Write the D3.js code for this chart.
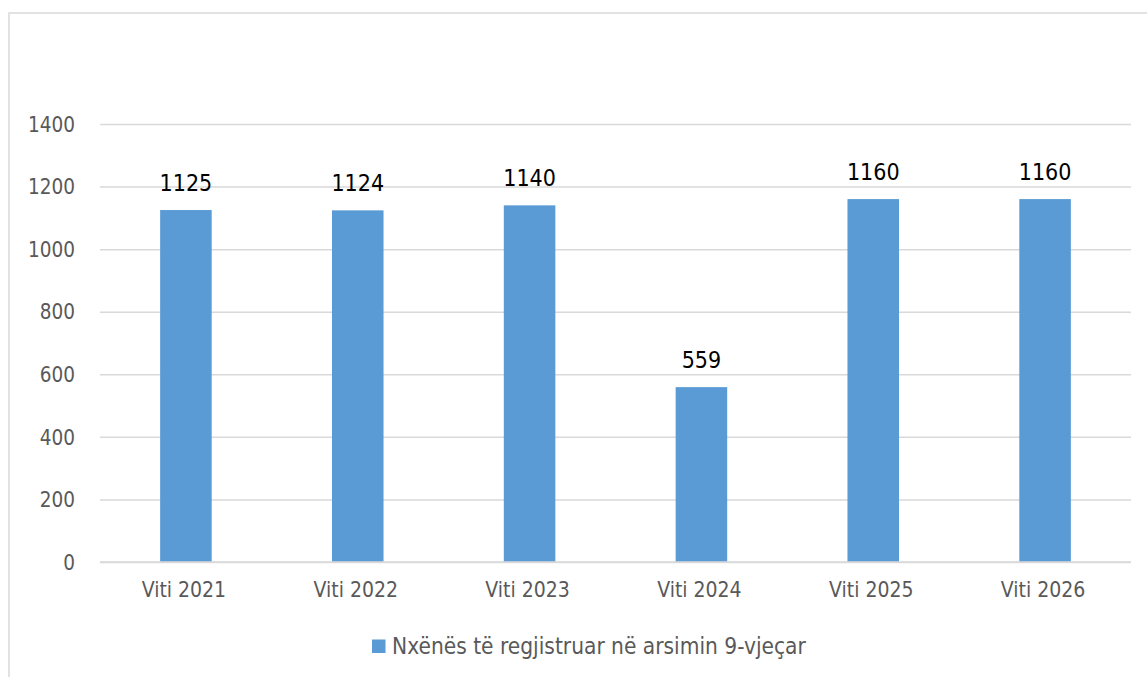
<!DOCTYPE html>
<html>
<head>
<meta charset="utf-8">
<script src="https://cdn.jsdelivr.net/npm/d3@7/dist/d3.min.js"></script>
<style>
  html, body { margin: 0; padding: 0; background: #fff; }
  svg { display: block; }
</style>
</head>
<body>
<svg id="chart" width="1147" height="677"></svg>
<script>
const categories = ["Viti 2021", "Viti 2022", "Viti 2023", "Viti 2024", "Viti 2025", "Viti 2026"];
const values = [1125, 1124, 1140, 559, 1160, 1160];
const yTicks = [0, 200, 400, 600, 800, 1000, 1200, 1400];
const seriesName = "Nxënës të regjistruar në arsimin 9-vjeçar";

const W = 1147, H = 677;
const font = "'DejaVu Sans Condensed', 'DejaVu Sans', sans-serif";
const grey = "#595959";
const barColor = "#5B9BD5";
const gridColor = "#d9d9d9";

const svg = d3.select("#chart");

// outer chart border (left and top visible)
svg.append("rect")
  .attr("x", 9).attr("y", 13)
  .attr("width", W + 20).attr("height", H + 20)
  .attr("fill", "#fff")
  .attr("stroke", gridColor).attr("stroke-width", 1.5);

const plot = { left: 100, right: 1131, top: 124, bottom: 562 };

const x = d3.scaleBand()
  .domain(categories)
  .range([plot.left, plot.right])
  .paddingInner(0.7)
  .paddingOuter(0.35);

const y = d3.scaleLinear()
  .domain([0, 1400])
  .range([plot.bottom, plot.top]);

// gridlines
const yAxis = d3.axisLeft(y)
  .tickValues(yTicks)
  .tickSize(-(plot.right - plot.left))
  .tickPadding(25)
  .tickFormat(d3.format("d"));

const gy = svg.append("g")
  .attr("transform", `translate(${plot.left},0)`)
  .call(yAxis);
gy.select(".domain").remove();
gy.selectAll(".tick line")
  .attr("stroke", gridColor).attr("stroke-width", 1.5);
gy.selectAll(".tick text")
  .attr("fill", grey)
  .attr("font-family", font)
  .attr("font-size", "20.5px")
  .attr("dy", "0.35em");

// bars
svg.append("g").selectAll("rect")
  .data(values)
  .join("rect")
  .attr("x", (d, i) => x(categories[i]))
  .attr("y", d => y(d))
  .attr("width", x.bandwidth())
  .attr("height", d => y(0) - y(d))
  .attr("fill", barColor);

// baseline
svg.append("line")
  .attr("x1", plot.left).attr("x2", plot.right)
  .attr("y1", y(0)).attr("y2", y(0))
  .attr("stroke", gridColor).attr("stroke-width", 1.5);

// value labels
svg.append("g").selectAll("text")
  .data(values)
  .join("text")
  .attr("x", (d, i) => x(categories[i]) + x.bandwidth() / 2)
  .attr("y", d => y(d) - 19)
  .attr("text-anchor", "middle")
  .attr("font-family", font)
  .attr("font-size", "23px")
  .attr("fill", "#000")
  .text(d => d);

// x axis labels
const xAxis = d3.axisBottom(x).tickSize(0).tickPadding(20);
const gx = svg.append("g")
  .attr("transform", `translate(-2,${plot.bottom})`)
  .call(xAxis);
gx.select(".domain").remove();
gx.selectAll(".tick text")
  .attr("fill", grey)
  .attr("font-family", font)
  .attr("font-size", "21px");

// legend
const legend = svg.append("g");
legend.append("rect")
  .attr("x", 372).attr("y", 639.5)
  .attr("width", 13.5).attr("height", 13.5)
  .attr("fill", barColor);
legend.append("text")
  .attr("x", 392).attr("y", 653.5)
  .attr("font-family", font)
  .attr("font-size", "22.5px")
  .attr("fill", grey)
  .text(seriesName);
</script>
</body>
</html>
